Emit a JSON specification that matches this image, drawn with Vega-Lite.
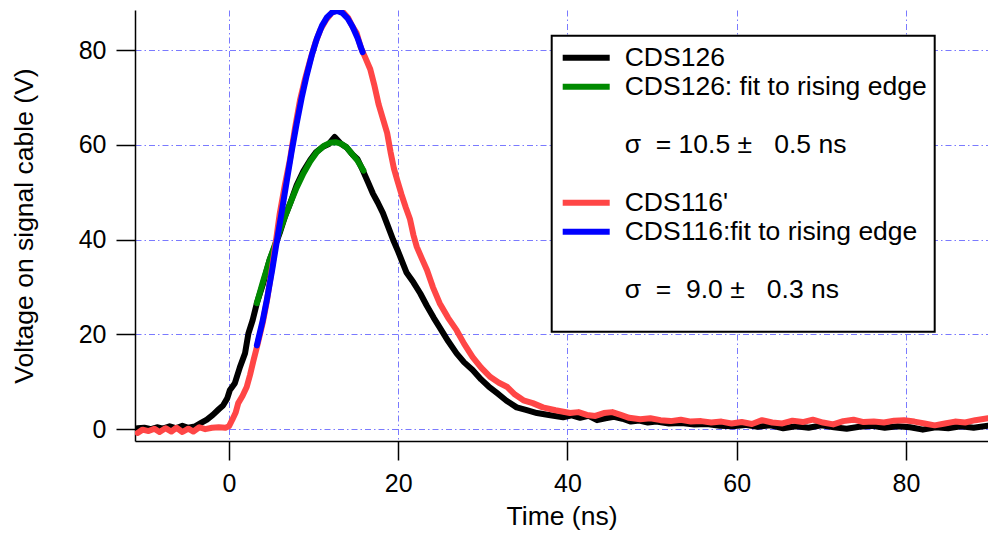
{
  "$schema": "https://vega.github.io/schema/vega-lite/v6.json",
  "autosize": "none",
  "width": 853,
  "height": 431,
  "padding": {"left": 135, "top": 10, "right": 0, "bottom": 93},
  "background": "white",
  "config": {
    "view": {"stroke": null},
    "font": "Liberation Sans",
    "axis": {
      "domainColor": "black", "domainWidth": 1.5,
      "tickColor": "black", "tickWidth": 1.5, "tickSize": 19,
      "labelFont": "Liberation Sans", "labelFontSize": 25, "labelColor": "black",
      "titleFont": "Liberation Sans", "titleFontSize": 26.5, "titleFontWeight": "normal", "titleColor": "black",
      "grid": true, "gridColor": "#7a7aff", "gridWidth": 1, "gridDash": [6, 3, 1.5, 3]
    }
  },
  "data": {"values": [
    {"s":"CDS126","t":-10.8,"v":0.2},{"s":"CDS126","t":-10,"v":0.3},{"s":"CDS126","t":-9.2,"v":0.0},{"s":"CDS126","t":-8.5,"v":0.4},{"s":"CDS126","t":-7.8,"v":0.1},{"s":"CDS126","t":-7,"v":0.6},{"s":"CDS126","t":-6.3,"v":0.2},{"s":"CDS126","t":-5.5,"v":0.7},{"s":"CDS126","t":-4.8,"v":0.3},{"s":"CDS126","t":-4,"v":0.6},{"s":"CDS126","t":-3.4,"v":1.2},{"s":"CDS126","t":-2.6,"v":2.0},{"s":"CDS126","t":-1.9,"v":3.0},{"s":"CDS126","t":-1.2,"v":4.2},{"s":"CDS126","t":-0.7,"v":5.0},{"s":"CDS126","t":-0.2,"v":6.5},{"s":"CDS126","t":0.1,"v":8.2},{"s":"CDS126","t":0.7,"v":9.7},{"s":"CDS126","t":1.3,"v":13.1},{"s":"CDS126","t":1.9,"v":16.0},{"s":"CDS126","t":2.3,"v":20.2},{"s":"CDS126","t":2.8,"v":23.0},{"s":"CDS126","t":3.3,"v":26.6},{"s":"CDS126","t":4.0,"v":30.5},{"s":"CDS126","t":4.8,"v":35.7},{"s":"CDS126","t":5.4,"v":38.5},{"s":"CDS126","t":6.0,"v":41.4},{"s":"CDS126","t":6.6,"v":44.8},{"s":"CDS126","t":7.2,"v":47.5},{"s":"CDS126","t":8.0,"v":51.5},{"s":"CDS126","t":8.8,"v":54.5},{"s":"CDS126","t":9.6,"v":56.8},{"s":"CDS126","t":10.3,"v":58.5},{"s":"CDS126","t":11.1,"v":59.6},{"s":"CDS126","t":11.8,"v":60.2},{"s":"CDS126","t":12.5,"v":61.7},{"s":"CDS126","t":13.2,"v":60.3},{"s":"CDS126","t":13.9,"v":59.5},{"s":"CDS126","t":14.6,"v":58.0},{"s":"CDS126","t":15.2,"v":57.0},{"s":"CDS126","t":15.8,"v":54.7},{"s":"CDS126","t":16.4,"v":52.3},{"s":"CDS126","t":17.0,"v":49.8},{"s":"CDS126","t":17.6,"v":47.8},{"s":"CDS126","t":18.2,"v":45.6},{"s":"CDS126","t":18.8,"v":42.8},{"s":"CDS126","t":19.4,"v":40.0},{"s":"CDS126","t":20.0,"v":37.5},{"s":"CDS126","t":20.4,"v":35.7},{"s":"CDS126","t":21.0,"v":33.0},{"s":"CDS126","t":21.8,"v":31.0},{"s":"CDS126","t":22.6,"v":28.7},{"s":"CDS126","t":23.4,"v":26.0},{"s":"CDS126","t":24.2,"v":23.5},{"s":"CDS126","t":24.9,"v":21.5},{"s":"CDS126","t":25.9,"v":18.6},{"s":"CDS126","t":26.9,"v":16.0},{"s":"CDS126","t":27.8,"v":14.1},{"s":"CDS126","t":28.8,"v":12.5},{"s":"CDS126","t":29.8,"v":10.5},{"s":"CDS126","t":30.7,"v":9.0},{"s":"CDS126","t":31.7,"v":7.6},{"s":"CDS126","t":32.8,"v":6.0},{"s":"CDS126","t":34.0,"v":4.6},{"s":"CDS126","t":35.2,"v":4.0},{"s":"CDS126","t":36.4,"v":3.4},{"s":"CDS126","t":37.8,"v":3.0},{"s":"CDS126","t":39.5,"v":2.5},{"s":"CDS126","t":40.5,"v":2.9},{"s":"CDS126","t":41.5,"v":2.4},{"s":"CDS126","t":42.5,"v":2.8},{"s":"CDS126","t":43.5,"v":1.9},{"s":"CDS126","t":44.5,"v":2.3},{"s":"CDS126","t":45.5,"v":2.6},{"s":"CDS126","t":46.5,"v":2.2},{"s":"CDS126","t":47.5,"v":1.6},{"s":"CDS126","t":48.5,"v":1.8},{"s":"CDS126","t":49.5,"v":1.4},{"s":"CDS126","t":50.5,"v":1.6},{"s":"CDS126","t":52,"v":1.2},{"s":"CDS126","t":53.5,"v":1.3},{"s":"CDS126","t":55,"v":1.0},{"s":"CDS126","t":56.5,"v":1.1},{"s":"CDS126","t":58,"v":0.7},{"s":"CDS126","t":59.5,"v":0.6},{"s":"CDS126","t":61,"v":0.9},{"s":"CDS126","t":62.5,"v":0.5},{"s":"CDS126","t":64,"v":0.8},{"s":"CDS126","t":65.5,"v":0.2},{"s":"CDS126","t":67,"v":0.6},{"s":"CDS126","t":68.5,"v":0.3},{"s":"CDS126","t":70,"v":0.8},{"s":"CDS126","t":71.5,"v":0.4},{"s":"CDS126","t":73,"v":0.1},{"s":"CDS126","t":74.5,"v":0.5},{"s":"CDS126","t":76,"v":0.7},{"s":"CDS126","t":77.5,"v":0.3},{"s":"CDS126","t":79,"v":0.6},{"s":"CDS126","t":80.5,"v":0.4},{"s":"CDS126","t":82,"v":-0.1},{"s":"CDS126","t":83.5,"v":0.4},{"s":"CDS126","t":85,"v":0.2},{"s":"CDS126","t":86.5,"v":0.6},{"s":"CDS126","t":88,"v":0.3},{"s":"CDS126","t":89.7,"v":0.7},

    {"s":"CDS126: fit to rising edge","t":3.3,"v":26.6},{"s":"CDS126: fit to rising edge","t":4.0,"v":31.0},{"s":"CDS126: fit to rising edge","t":4.8,"v":35.7},{"s":"CDS126: fit to rising edge","t":5.6,"v":39.8},{"s":"CDS126: fit to rising edge","t":6.4,"v":43.8},{"s":"CDS126: fit to rising edge","t":7.2,"v":47.5},{"s":"CDS126: fit to rising edge","t":8.0,"v":51.0},{"s":"CDS126: fit to rising edge","t":8.8,"v":54.0},{"s":"CDS126: fit to rising edge","t":9.6,"v":56.5},{"s":"CDS126: fit to rising edge","t":10.4,"v":58.5},{"s":"CDS126: fit to rising edge","t":11.2,"v":59.8},{"s":"CDS126: fit to rising edge","t":12.0,"v":60.5},{"s":"CDS126: fit to rising edge","t":12.6,"v":60.6},{"s":"CDS126: fit to rising edge","t":13.2,"v":60.3},{"s":"CDS126: fit to rising edge","t":13.9,"v":59.5},{"s":"CDS126: fit to rising edge","t":14.6,"v":58.0},{"s":"CDS126: fit to rising edge","t":15.2,"v":56.7},{"s":"CDS126: fit to rising edge","t":15.9,"v":54.6},

    {"s":"CDS116'","t":-10.8,"v":-0.8},{"s":"CDS116'","t":-10.2,"v":-0.1},{"s":"CDS116'","t":-9.5,"v":-0.4},{"s":"CDS116'","t":-8.8,"v":0.1},{"s":"CDS116'","t":-8.2,"v":-0.6},{"s":"CDS116'","t":-7.5,"v":0.2},{"s":"CDS116'","t":-6.8,"v":-0.5},{"s":"CDS116'","t":-6.2,"v":0.3},{"s":"CDS116'","t":-5.5,"v":-0.6},{"s":"CDS116'","t":-4.8,"v":0.1},{"s":"CDS116'","t":-4.2,"v":-0.5},{"s":"CDS116'","t":-3.5,"v":0.4},{"s":"CDS116'","t":-2.8,"v":0.0},{"s":"CDS116'","t":-2.0,"v":0.3},{"s":"CDS116'","t":-1.2,"v":0.4},{"s":"CDS116'","t":-0.4,"v":0.3},{"s":"CDS116'","t":0.0,"v":0.6},{"s":"CDS116'","t":0.4,"v":2.0},{"s":"CDS116'","t":0.8,"v":3.5},{"s":"CDS116'","t":1.1,"v":5.5},{"s":"CDS116'","t":1.6,"v":7.0},{"s":"CDS116'","t":2.1,"v":8.9},{"s":"CDS116'","t":2.5,"v":11.5},{"s":"CDS116'","t":2.9,"v":14.5},{"s":"CDS116'","t":3.3,"v":17.3},{"s":"CDS116'","t":4.0,"v":22.5},{"s":"CDS116'","t":4.5,"v":27.2},{"s":"CDS116'","t":5.1,"v":34.2},{"s":"CDS116'","t":5.5,"v":39.0},{"s":"CDS116'","t":6.0,"v":45.5},{"s":"CDS116'","t":6.6,"v":51.5},{"s":"CDS116'","t":7.2,"v":56.8},{"s":"CDS116'","t":7.8,"v":63.5},{"s":"CDS116'","t":8.4,"v":69.5},{"s":"CDS116'","t":9.0,"v":74.0},{"s":"CDS116'","t":9.6,"v":77.9},{"s":"CDS116'","t":10.2,"v":81.5},{"s":"CDS116'","t":10.8,"v":84.3},{"s":"CDS116'","t":11.5,"v":86.5},{"s":"CDS116'","t":12.2,"v":88.0},{"s":"CDS116'","t":12.9,"v":88.5},{"s":"CDS116'","t":13.5,"v":88.0},{"s":"CDS116'","t":14.1,"v":86.8},{"s":"CDS116'","t":14.6,"v":85.0},{"s":"CDS116'","t":15.1,"v":83.6},{"s":"CDS116'","t":15.6,"v":80.5},{"s":"CDS116'","t":16.1,"v":78.5},{"s":"CDS116'","t":16.7,"v":76.0},{"s":"CDS116'","t":17.2,"v":72.5},{"s":"CDS116'","t":17.7,"v":68.5},{"s":"CDS116'","t":18.2,"v":65.5},{"s":"CDS116'","t":18.7,"v":62.5},{"s":"CDS116'","t":19.1,"v":58.5},{"s":"CDS116'","t":19.5,"v":55.0},{"s":"CDS116'","t":19.9,"v":52.5},{"s":"CDS116'","t":20.4,"v":49.5},{"s":"CDS116'","t":20.9,"v":46.8},{"s":"CDS116'","t":21.4,"v":44.3},{"s":"CDS116'","t":21.8,"v":41.0},{"s":"CDS116'","t":22.2,"v":38.5},{"s":"CDS116'","t":22.8,"v":36.0},{"s":"CDS116'","t":23.4,"v":33.6},{"s":"CDS116'","t":24.1,"v":30.0},{"s":"CDS116'","t":24.9,"v":26.6},{"s":"CDS116'","t":25.9,"v":23.5},{"s":"CDS116'","t":26.9,"v":20.9},{"s":"CDS116'","t":27.8,"v":18.0},{"s":"CDS116'","t":28.8,"v":15.2},{"s":"CDS116'","t":29.8,"v":13.0},{"s":"CDS116'","t":30.9,"v":11.0},{"s":"CDS116'","t":31.9,"v":9.8},{"s":"CDS116'","t":32.9,"v":8.9},{"s":"CDS116'","t":33.8,"v":7.3},{"s":"CDS116'","t":34.8,"v":6.1},{"s":"CDS116'","t":35.9,"v":5.5},{"s":"CDS116'","t":37.1,"v":4.6},{"s":"CDS116'","t":38.6,"v":4.0},{"s":"CDS116'","t":40.3,"v":3.4},{"s":"CDS116'","t":41.3,"v":3.6},{"s":"CDS116'","t":42.3,"v":3.0},{"s":"CDS116'","t":43.3,"v":2.8},{"s":"CDS116'","t":44.3,"v":3.4},{"s":"CDS116'","t":45.3,"v":3.6},{"s":"CDS116'","t":46.3,"v":3.0},{"s":"CDS116'","t":47.3,"v":2.4},{"s":"CDS116'","t":48.6,"v":2.1},{"s":"CDS116'","t":49.8,"v":2.3},{"s":"CDS116'","t":51,"v":1.9},{"s":"CDS116'","t":52.2,"v":1.7},{"s":"CDS116'","t":53.4,"v":2.0},{"s":"CDS116'","t":54.6,"v":1.6},{"s":"CDS116'","t":55.8,"v":1.7},{"s":"CDS116'","t":57,"v":1.4},{"s":"CDS116'","t":58.2,"v":1.6},{"s":"CDS116'","t":59.4,"v":1.2},{"s":"CDS116'","t":60.6,"v":1.5},{"s":"CDS116'","t":61.8,"v":1.1},{"s":"CDS116'","t":63,"v":1.9},{"s":"CDS116'","t":64.2,"v":1.4},{"s":"CDS116'","t":65.4,"v":1.2},{"s":"CDS116'","t":66.6,"v":1.8},{"s":"CDS116'","t":67.8,"v":1.5},{"s":"CDS116'","t":69,"v":2.0},{"s":"CDS116'","t":70.2,"v":1.4},{"s":"CDS116'","t":71.4,"v":1.0},{"s":"CDS116'","t":72.6,"v":1.7},{"s":"CDS116'","t":73.8,"v":2.0},{"s":"CDS116'","t":75,"v":1.5},{"s":"CDS116'","t":76.2,"v":1.6},{"s":"CDS116'","t":77.4,"v":1.4},{"s":"CDS116'","t":78.6,"v":1.8},{"s":"CDS116'","t":79.8,"v":1.9},{"s":"CDS116'","t":81,"v":1.6},{"s":"CDS116'","t":82.2,"v":1.2},{"s":"CDS116'","t":83.4,"v":0.8},{"s":"CDS116'","t":84.6,"v":1.2},{"s":"CDS116'","t":85.8,"v":1.6},{"s":"CDS116'","t":87,"v":1.4},{"s":"CDS116'","t":88.2,"v":1.9},{"s":"CDS116'","t":89.7,"v":2.3},

    {"s":"CDS116:fit to rising edge","t":3.3,"v":17.7},{"s":"CDS116:fit to rising edge","t":4.0,"v":23.0},{"s":"CDS116:fit to rising edge","t":4.5,"v":27.5},{"s":"CDS116:fit to rising edge","t":5.1,"v":33.5},{"s":"CDS116:fit to rising edge","t":5.6,"v":39.0},{"s":"CDS116:fit to rising edge","t":6.2,"v":45.5},{"s":"CDS116:fit to rising edge","t":6.8,"v":52.0},{"s":"CDS116:fit to rising edge","t":7.4,"v":58.5},{"s":"CDS116:fit to rising edge","t":8.0,"v":64.5},{"s":"CDS116:fit to rising edge","t":8.6,"v":70.0},{"s":"CDS116:fit to rising edge","t":9.2,"v":74.8},{"s":"CDS116:fit to rising edge","t":9.8,"v":79.0},{"s":"CDS116:fit to rising edge","t":10.4,"v":82.5},{"s":"CDS116:fit to rising edge","t":11.0,"v":85.2},{"s":"CDS116:fit to rising edge","t":11.6,"v":87.0},{"s":"CDS116:fit to rising edge","t":12.2,"v":88.0},{"s":"CDS116:fit to rising edge","t":12.8,"v":88.3},{"s":"CDS116:fit to rising edge","t":13.4,"v":87.9},{"s":"CDS116:fit to rising edge","t":14.0,"v":86.8},{"s":"CDS116:fit to rising edge","t":14.6,"v":85.0},{"s":"CDS116:fit to rising edge","t":15.2,"v":82.6},{"s":"CDS116:fit to rising edge","t":15.8,"v":79.6}
  ]},
  "encoding": {
    "x": {"field": "t", "type": "quantitative", "title": "Time (ns)",
      "scale": {"domain": [-11.1, 89.7], "nice": false, "zero": false},
      "axis": {"values": [0, 20, 40, 60, 80], "labelPadding": 11, "titlePadding": 7}},
    "y": {"field": "v", "type": "quantitative", "title": "Voltage on signal cable (V)",
      "scale": {"domain": [-2.5, 88.5], "nice": false, "zero": false},
      "axis": {"values": [0, 20, 40, 60, 80], "labelPadding": 10, "titlePadding": 40}},
    "color": {"field": "s", "type": "nominal",
      "scale": {
        "domain": ["CDS126", "CDS126: fit to rising edge", " ", "σ\u00a0\u00a0=\u00a010.5\u00a0±\u00a0\u00a0\u00a00.5\u00a0ns", "  ", "CDS116'", "CDS116:fit to rising edge", "   ", "σ\u00a0\u00a0=\u00a0\u00a09.0\u00a0±\u00a0\u00a0\u00a00.3\u00a0ns"],
        "range": ["#000000", "#008a00", "transparent", "transparent", "transparent", "#ff4646", "#0000ff", "transparent", "transparent"]
      },
      "legend": {
        "orient": "none", "legendX": 416.7, "legendY": 25.7,
        "title": " ", "titleOrient": "bottom", "titleFontSize": 10, "titlePadding": 10,
        "symbolType": "stroke", "symbolSize": 2209, "symbolStrokeWidth": 6,
        "labelFont": "Liberation Sans", "labelFontSize": 26.5, "labelColor": "black", "labelLimit": 500, "labelOffset": 12,
        "clipHeight": 28.3, "rowPadding": 0, "padding": 8,
        "strokeColor": "black", "fillColor": "white",
        "encode": {"legend": {"update": {"strokeWidth": {"value": 2}}}}
      }
    }
  },
  "layer": [
    {"transform": [{"filter": "datum.s === 'CDS126'"}], "mark": {"type": "line", "strokeWidth": 6, "strokeCap": "round", "strokeJoin": "round", "clip": true}},
    {"transform": [{"filter": "datum.s === 'CDS126: fit to rising edge'"}], "mark": {"type": "line", "strokeWidth": 6, "strokeCap": "round", "strokeJoin": "round", "clip": true}},
    {"transform": [{"filter": "datum.s === \"CDS116'\""}], "mark": {"type": "line", "strokeWidth": 6, "strokeCap": "round", "strokeJoin": "round", "clip": true}},
    {"transform": [{"filter": "datum.s === 'CDS116:fit to rising edge'"}], "mark": {"type": "line", "strokeWidth": 6, "strokeCap": "round", "strokeJoin": "round", "clip": true}}
  ]
}
